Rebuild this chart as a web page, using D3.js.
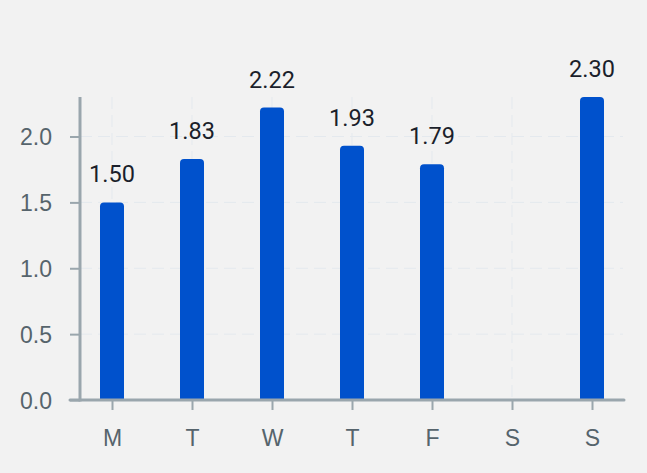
<!DOCTYPE html>
<html>
<head>
<meta charset="utf-8">
<script src="https://cdn.jsdelivr.net/npm/d3@7"></script>
<style>
  html, body { margin: 0; padding: 0; background: #f2f2f2; }
  svg { display: block; font-family: Roboto, "Noto Sans", sans-serif; }
  .val_label { fill: #1b1f2b; font-size: 23.5px; }
  .axis_label { fill: #56646c; font-size: 23px; }
</style>
</head>
<body>
<div id="chart"></div>
<script>
// weekly values, S (Saturday) has no value
var days = ["M", "T", "W", "T", "F", "S", "S"];
var values = [1.50, 1.83, 2.22, 1.93, 1.79, null, 2.30];
var yTicks = [0, 0.5, 1.0, 1.5, 2.0];

var width = 647, height = 473;
var axisColor = "#9aa6ad";
var barWidth = 24;

var svg = d3.select("#chart")
    .append("svg")
    .attr("width", width)
    .attr("height", height);

svg.append("rect")
    .attr("width", width)
    .attr("height", height)
    .attr("fill", "#f2f2f2");

var idx = d3.range(days.length);

var x = d3.scalePoint()
    .domain(idx)
    .range([72, 632])
    .padding(0.5);

var y = d3.scaleLinear()
    .domain([0, 2.3])
    .range([400, 97]);

// grid, very faint and dashed
svg.selectAll(".hgrid")
    .data(yTicks.filter(function(d) { return d > 0; }))
    .enter()
    .append("line")
    .attr("x1", 80)
    .attr("x2", 623)
    .attr("y1", function(d) { return y(d); })
    .attr("y2", function(d) { return y(d); })
    .attr("stroke", "#e4e9ee")
    .attr("stroke-width", 1)
    .attr("stroke-dasharray", "12,6");

svg.selectAll(".vgrid")
    .data(idx)
    .enter()
    .append("line")
    .attr("x1", function(d) { return x(d); })
    .attr("x2", function(d) { return x(d); })
    .attr("y1", y(2.3))
    .attr("y2", y(0))
    .attr("stroke", "#e4e9ee")
    .attr("stroke-width", 1)
    .attr("stroke-dasharray", "12,6");

// bars with rounded top corners
var r = 4;
function barPath(d, i) {
    var cx = x(i), x0 = cx - barWidth / 2, x1 = cx + barWidth / 2;
    var top = y(d), bottom = y(0);
    return "M" + x0 + "," + bottom +
        "V" + (top + r) +
        "Q" + x0 + "," + top + " " + (x0 + r) + "," + top +
        "H" + (x1 - r) +
        "Q" + x1 + "," + top + " " + x1 + "," + (top + r) +
        "V" + bottom + "Z";
}

var bars = svg.selectAll(".bar")
    .data(values)
    .enter()
    .filter(function(d) { return d != null; })
    .append("g")
    .attr("class", "bar");

bars.append("path")
    .attr("d", function(d) { return barPath(d, values.indexOf(d)); })
    .attr("fill", "#0051cc");

bars.append("text")
    .attr("class", "val_label")
    .attr("x", function(d) { return x(values.indexOf(d)); })
    .attr("y", function(d) { return y(d) - 20; })
    .attr("text-anchor", "middle")
    .text(function(d) { return d3.format(".2f")(d); });

// y axis
var yAxis = d3.axisLeft(y)
    .tickValues(yTicks)
    .tickSize(10)
    .tickPadding(18)
    .tickFormat(d3.format(".1f"));

var gy = svg.append("g")
    .attr("transform", "translate(80,0)")
    .call(yAxis);
gy.select(".domain").remove();
gy.selectAll(".tick line").attr("stroke", axisColor).attr("stroke-width", 2);
gy.selectAll(".tick text")
    .attr("class", "axis_label")
    .attr("font-size", null)
    .attr("font-family", null)
    .attr("dy", "0.36em");

svg.append("line")
    .attr("x1", 80).attr("x2", 80)
    .attr("y1", y(2.3)).attr("y2", y(0) + 1.5)
    .attr("stroke", axisColor)
    .attr("stroke-width", 3);

// x axis
var xAxis = d3.axisBottom(x)
    .tickSize(10)
    .tickPadding(20)
    .tickFormat(function(d) { return days[d]; });

var gx = svg.append("g")
    .attr("transform", "translate(0,400)")
    .call(xAxis);
gx.select(".domain").remove();
gx.selectAll(".tick line").attr("stroke", axisColor).attr("stroke-width", 2);
gx.selectAll(".tick text")
    .attr("class", "axis_label")
    .attr("font-size", null)
    .attr("font-family", null)
    .attr("dy", "0.71em");

svg.append("line")
    .attr("x1", 70).attr("x2", 624)
    .attr("y1", 400).attr("y2", 400)
    .attr("stroke", axisColor)
    .attr("stroke-width", 3)
    .attr("stroke-linecap", "round");
</script>
</body>
</html>
